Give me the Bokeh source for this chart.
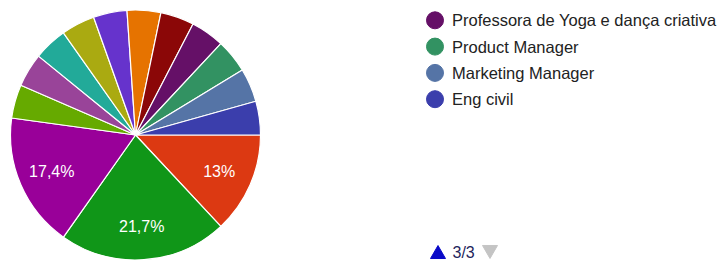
import math
from bokeh.plotting import figure
from bokeh.models import Range1d, ColumnDataSource
from bokeh.core.properties import value
from bokeh.embed import file_html
from bokeh.resources import INLINE

# Slices in clockwise order, starting at 3 o'clock
slice_counts = [3, 5, 4, 1, 1, 1, 1, 1, 1, 1, 1, 1, 1, 1]
slice_colors = ["#dc3912", "#109618", "#990099", "#66aa00", "#994499", "#22aa99",
                "#aaaa11", "#6633cc", "#e67300", "#8b0707", "#651067", "#329262",
                "#5574a6", "#3b3eac"]
legend_labels = ["Professora de Yoga e dança criativa", "Product Manager",
                 "Marketing Manager", "Eng civil"]
legend_colors = ["#651067", "#329262", "#5574a6", "#3b3eac"]
page_label = "3/3"

W, H = 722, 261
p = figure(width=W, height=H, output_backend="svg", toolbar_location=None,
           x_range=Range1d(0, W), y_range=Range1d(0, H), min_border=0)
p.axis.visible = False
p.grid.visible = False
p.outline_line_color = None
p.background_fill_color = "white"
p.border_fill_color = "white"

def Y(sy):  # screenshot y -> data y
    return H - sy

def X(sx):
    return sx

cx, cy, R = X(135), Y(134.5), 125
total = sum(slice_counts)
start_cw = math.pi / 2  # clockwise angle from top where first slice begins
starts, ends, lx, ly, ltxt = [], [], [], [], []
acc = start_cw
for c in slice_counts:
    a1 = acc
    a2 = acc + 2 * math.pi * c / total
    acc = a2
    starts.append(math.pi / 2 - a2)
    ends.append(math.pi / 2 - a1)
    pct = 100 * c / total
    if pct > 8:
        mid = (a1 + a2) / 2
        lx.append(cx + 0.73 * R * math.sin(mid))
        ly.append(cy + 0.73 * R * math.cos(mid))
        s = f"{round(pct, 1):.1f}"
        if s.endswith(".0"):
            s = s[:-2]
        ltxt.append(s.replace(".", ",") + "%")

src = ColumnDataSource(dict(start=starts, end=ends, color=slice_colors))
p.wedge(x=cx, y=cy, radius=R, start_angle="start", end_angle="end",
        fill_color="color", line_color="white", line_width=1.2, source=src)

p.text(x=lx, y=ly, text=ltxt, text_color="white", text_align="center",
       text_baseline="middle", text_font=value("Liberation Sans"),
       text_font_size="16px")

# Legend
rows = [Y(19.8 + i * 26.3) for i in range(len(legend_labels))]
p.scatter(x=[X(434.5)] * len(rows), y=rows, size=17, color=legend_colors)
p.text(x=[X(451.5)] * len(rows), y=rows, text=legend_labels, text_color="#222222",
       text_align="left", text_baseline="middle", text_font=value("Liberation Sans"),
       text_font_size="16.5px")

# Pagination
p.scatter(x=[X(437.5)], y=[Y(253.7)], marker="triangle", size=15,
          color="#0a0ac8")
p.text(x=[X(452)], y=[Y(251.5)], text=[page_label], text_color="#1f1f5c",
       text_align="left", text_baseline="middle", text_font=value("Liberation Sans"),
       text_font_size="16px")
p.scatter(x=[X(489.5)], y=[Y(249.3)], marker="inverted_triangle", size=15,
          color="#c4c4c4")

open("out.html", "w").write(file_html(p, INLINE))
